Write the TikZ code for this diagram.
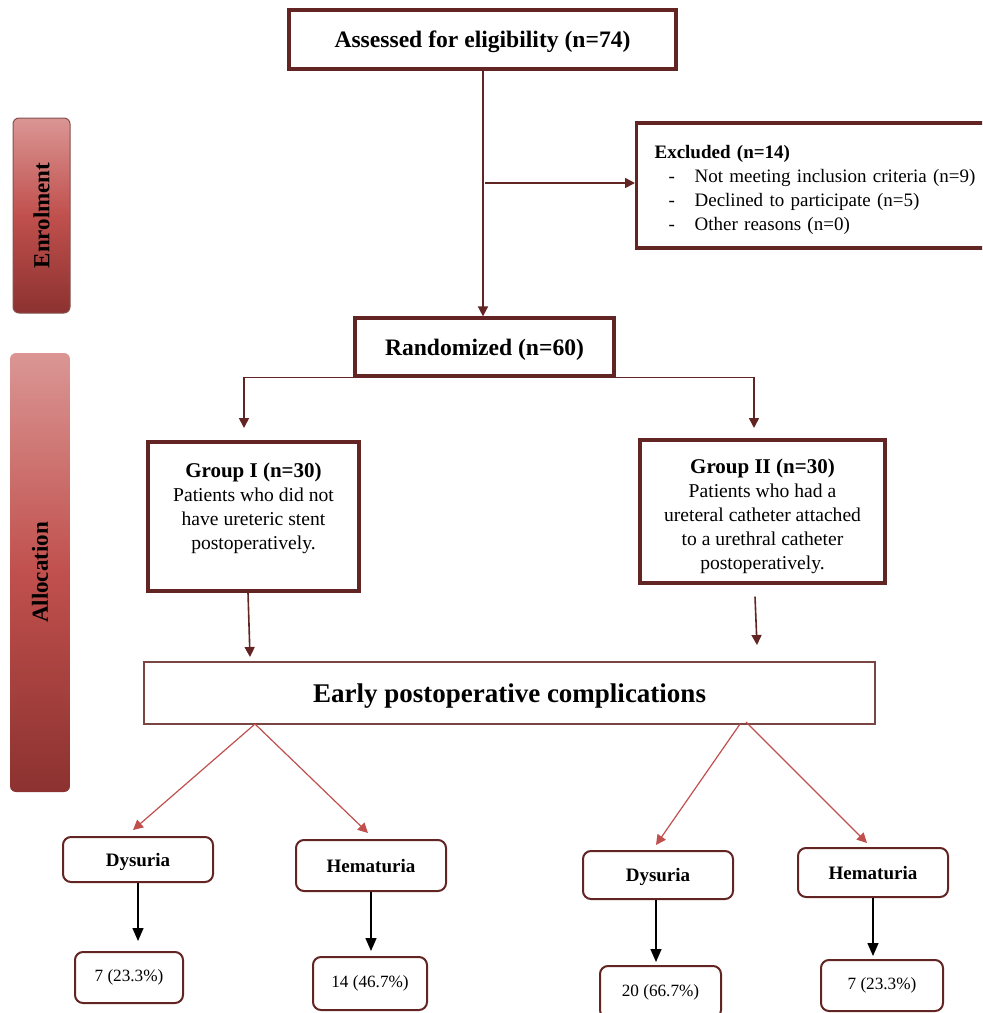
\documentclass[tikz,border=0pt]{standalone}
\usepackage{fontspec}
\setmainfont{Liberation Serif}
\usetikzlibrary{arrows.meta,positioning}
\definecolor{flowMaroon}{HTML}{632523}
\definecolor{flowRed}{HTML}{C0504D}
\definecolor{barLight}{HTML}{DA9694}
\definecolor{barDark}{HTML}{8C3230}
\newcommand{\exitem}[1]{\hspace*{7pt}\makebox[13pt][l]{-}#1}

\begin{document}
\begin{tikzpicture}[
  x=0.5pt, y=-0.5pt,
  thickbox/.style={draw=flowMaroon, line width=1.6pt, fill=white, align=center, inner sep=0pt},
  headfont/.style={font=\fontsize{11.8}{14}\selectfont\bfseries, text depth=0pt},
  grouptext/.style={align=center, inner sep=0pt, font=\fontsize{9.8}{12}\selectfont},
  sidebar/.style={draw=flowMaroon!80, line width=0.5pt, rounded corners=3pt,
                  top color=barLight, bottom color=barDark, middle color=flowRed,
                  inner sep=0pt, font=\fontsize{11.5}{14}\selectfont\bfseries},
  compbox/.style={draw=flowMaroon!85, line width=0.6pt, inner sep=0pt, text depth=0pt,
                  font=\fontsize{13.5}{16}\selectfont\bfseries},
  outbox/.style={draw=flowMaroon, line width=1pt, rounded corners=4pt, inner sep=0pt,
                 minimum width=75pt, text depth=0pt, font=\fontsize{9.5}{11}\selectfont\bfseries},
  resbox/.style={draw=flowMaroon, line width=1pt, rounded corners=4pt, inner sep=0pt,
                 font=\fontsize{8.6}{10}\selectfont},
  arr/.style={-{Triangle[length=5pt,width=5pt]}, draw=flowMaroon, line width=0.8pt},
  redarr/.style={-{Triangle[length=5pt,width=5pt]}, draw=flowRed, line width=0.6pt},
  blackarr/.style={-{Triangle[length=6.5pt,width=5.5pt]}, line width=0.7pt}
]
\clip (0,0) rectangle (982,1013);

% side bars
\node[sidebar, minimum width=28.5pt, minimum height=97.5pt] (enrol) at (41.5,215.5) {\rotatebox{90}{Enrolment}};
\node[sidebar, draw=none, minimum width=30pt, minimum height=219.5pt] (alloc) at (40,572.5) {\rotatebox{90}{Allocation}};

% enrolment
\node[thickbox, headfont, minimum width=193.5pt, minimum height=29.5pt] (assess) at (482.5,39.5) {Assessed for eligibility (n=74)};
\node[thickbox, anchor=west, minimum height=62.5pt, text width=172pt, inner xsep=9pt, align=left,
      font=\fontsize{9.5}{12}\selectfont] (excl) at (635,185.5)
  {\rule{0pt}{11pt}\textbf{Excluded (n=14)}\\
   \exitem{Not meeting inclusion criteria (n=9)}\\
   \exitem{Declined to participate (n=5)}\\
   \exitem{Other reasons (n=0)}};
\node[thickbox, headfont, minimum width=129.5pt, minimum height=29pt] (rand) at (484.5,347) {Randomized (n=60)};

\coordinate (exbranch) at (485,183);
\draw[arr] (assess.south -| 483,0) -- (rand.north -| 483,0);
\draw[arr] (exbranch) -- (exbranch -| excl.west);

% allocation
\node[thickbox, minimum width=105.5pt, minimum height=74.5pt] (g1) at (253.5,516.5) {};
\node[grouptext] (g1txt) at (253.5,508)
  {{\fontsize{10.5}{12}\selectfont\bfseries Group I (n=30)}\\
   Patients who did not\\have ureteric stent\\postoperatively.};
\node[thickbox, minimum width=122.5pt, minimum height=71.5pt] (g2) at (762.5,511.5) {};
\node[grouptext] (g2txt) at (762.5,516)
  {{\fontsize{10.5}{12}\selectfont\bfseries Group II (n=30)}\\
   Patients who had a\\ureteral catheter attached\\to a urethral catheter\\postoperatively.};

\coordinate (g1in) at (244,428);
\coordinate (g2in) at (754,428);
\draw[arr] (rand.south west) -| (g1in);
\draw[arr] (rand.south east) -| (g2in);

\node[compbox, minimum width=365.5pt, minimum height=31pt] (early) at (509.5,693) {Early postoperative complications};

\coordinate (ein1) at (250,657);
\coordinate (ein2) at (757,645);
\draw[arr] ([xshift=-2.75pt]g1.south) -- (ein1);
\draw[arr] ([xshift=-3.75pt,yshift=-6pt]g2.south) -- (ein2);

% outcomes
\node[outbox, minimum height=22.5pt] (dysL) at (138,859.5) {Dysuria};
\node[outbox, minimum height=25.5pt] (hemL) at (371,865.5) {Hematuria};
\node[outbox, minimum height=24pt] (dysR) at (658,875) {Dysuria};
\node[outbox, minimum height=24.5pt] (hemR) at (873,872.5) {Hematuria};

\coordinate (eL) at (255,724);
\coordinate (eR1) at (740,724);
\coordinate (eR2) at (746,722);
\coordinate (tipDysL) at (133,830);
\coordinate (tipHemL) at (368,833);
\coordinate (tipDysR) at (656,845);
\coordinate (tipHemR) at (867,843);
\draw[redarr] (eL) -- (tipDysL);
\draw[redarr] (eL) -- (tipHemL);
\draw[redarr] (eR1) -- (tipDysR);
\draw[redarr] (eR2) -- (tipHemR);

\node[resbox, minimum width=54pt, minimum height=25.5pt] (resL1) at (129,977.5) {7 (23.3\%)};
\node[resbox, minimum width=57pt, minimum height=26.5pt] (resL2) at (370,983.5) {14 (46.7\%)};
\node[resbox, minimum width=60.5pt, minimum height=26pt] (resR1) at (660.5,992) {20 (66.7\%)};
\node[resbox, minimum width=61pt, minimum height=25.5pt] (resR2) at (882,985.5) {7 (23.3\%)};

\coordinate (tipL1) at (138,941);
\coordinate (tipL2) at (371,951);
\coordinate (tipR1) at (656,962);
\coordinate (tipR2) at (873,956);
\draw[blackarr] (dysL.south) -- (tipL1);
\draw[blackarr] (hemL.south) -- (tipL2);
\draw[blackarr] (dysR.south -| tipR1) -- (tipR1);
\draw[blackarr] (hemR.south) -- (tipR2);
\end{tikzpicture}
\end{document}
